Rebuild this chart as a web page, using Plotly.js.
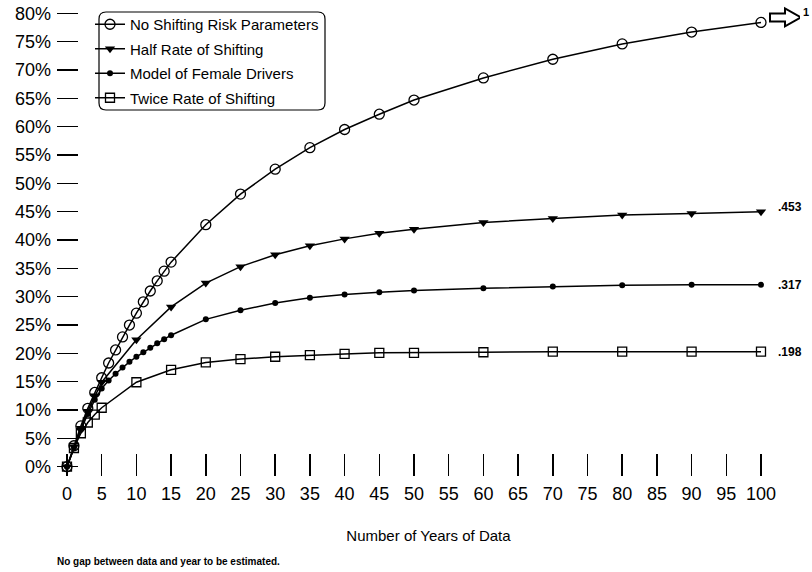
<!DOCTYPE html>
<html>
<head>
<meta charset="utf-8">
<script src="https://cdn.plot.ly/plotly-3.0.1.min.js"></script>
<style>html,body{margin:0;padding:0;background:#fff;}#chart{width:812px;height:572px;}</style>
</head>
<body>
<div id="chart"></div>
<script>
// ---- data (percent) ----
const yearsFine = [0,1,2,3,4,5,6,7,8,9,10,11,12,13,14,15,20,25,30,35,40,45,50,60,70,80,90,100];
const yearsCoarse = [0,1,2,3,4,5,10,15,20,25,30,35,40,45,50,60,70,80,90,100];
const noShifting = [0,3.7,7.2,10.3,13.1,15.7,18.3,20.6,22.9,25.0,27.1,29.1,31.0,32.8,34.5,36.1,42.7,48.1,52.5,56.3,59.5,62.2,64.7,68.6,71.9,74.6,76.7,78.4];
const halfRate = [0,3.5,6.8,9.8,12.5,14.9,22.4,28.2,32.4,35.3,37.4,39.0,40.2,41.2,41.9,43.1,43.8,44.4,44.7,45.0];
const femaleDrivers = [0,3.4,6.5,9.3,11.8,13.8,15.2,16.4,17.5,18.5,19.4,20.2,21.0,21.8,22.5,23.2,26.0,27.6,28.9,29.8,30.4,30.8,31.1,31.5,31.8,32.0,32.1,32.1];
const twiceRate = [0,3.3,5.9,7.8,9.2,10.4,14.9,17.1,18.4,19.0,19.4,19.7,19.9,20.1,20.1,20.2,20.3,20.3,20.3,20.3];
const seriesNames = ["No Shifting Risk Parameters","Half Rate of Shifting","Model of Female Drivers","Twice Rate of Shifting"];
const endLabels = ["1",".453",".317",".198"];
const xTicks = [0,5,10,15,20,25,30,35,40,45,50,55,60,65,70,75,80,85,90,95,100];
const yTicks = [0,5,10,15,20,25,30,35,40,45,50,55,60,65,70,75,80];
const yTickText = yTicks.map(v => v + '%');
const xTitle = "Number of Years of Data";
const footnote = "No gap between data and year to be estimated.";

// ---- geometry ----
const W=812,H=572,ML=57,MR=12,MT=5,MB=96;
const PW=W-ML-MR, PH=H-MT-MB;
const px2x = p => (p-ML)/PW;
const px2y = p => (H-MB-p)/PH;
const FONT = "Liberation Sans, Arial, sans-serif";

const lineStyle = {color:'#000', width:1.5};
const traces = [
  {x:yearsFine, y:noShifting, name:seriesNames[0], mode:'lines+markers', line:lineStyle,
   marker:{symbol:'circle-open', size:10, color:'#000', line:{width:1.3,color:'#000'}}},
  {x:yearsCoarse, y:halfRate, name:seriesNames[1], mode:'lines+markers', line:lineStyle,
   marker:{symbol:'triangle-down', size:9, color:'#000'}},
  {x:yearsFine, y:femaleDrivers, name:seriesNames[2], mode:'lines+markers', line:lineStyle,
   marker:{symbol:'circle', size:6, color:'#000'}},
  {x:yearsCoarse, y:twiceRate, name:seriesNames[3], mode:'lines+markers', line:lineStyle,
   marker:{symbol:'square-open', size:9, color:'#000', line:{width:1.3,color:'#000'}}}
].map((t,i) => Object.assign(t, {cliponaxis:false, legendgroup:'g'+i}));

// rounded legend box in paper coords
function roundRect(x0,y0,x1,y1,r){
  const P=(x,y)=>px2x(x).toFixed(5)+','+px2y(y).toFixed(5);
  return 'M'+P(x0+r,y0)+' L'+P(x1-r,y0)+' Q'+P(x1,y0)+' '+P(x1,y0+r)+
    ' L'+P(x1,y1-r)+' Q'+P(x1,y1)+' '+P(x1-r,y1)+
    ' L'+P(x0+r,y1)+' Q'+P(x0,y1)+' '+P(x0,y1-r)+
    ' L'+P(x0,y0+r)+' Q'+P(x0,y0)+' '+P(x0+r,y0)+' Z';
}

const lastY = [noShifting, halfRate, femaleDrivers, twiceRate].map(a => a[a.length-1]);
const lastX = yearsFine[yearsFine.length-1];

// hollow block arrow anchored (in pixels) to the last "No Shifting" point
const arrowShape = {type:'path', xref:'x', yref:'y', xsizemode:'pixel', ysizemode:'pixel',
  xanchor:lastX, yanchor:lastY[0],
  path:'M9,1 L24,1 L24,-4 L40,5 L24,14 L24,9 L9,9 Z',
  line:{color:'#000', width:2}, fillcolor:'#fff'};

const annotations = [
  {x:lastX, y:lastY[0], xref:'x', yref:'y', text:'<b>'+endLabels[0]+'</b>', showarrow:false, xanchor:'left',
   xshift:40, yshift:10, font:{family:FONT, size:11, color:'#000'}},
  {x:lastX, y:lastY[1], xref:'x', yref:'y', text:'<b>'+endLabels[1]+'</b>', showarrow:false, xanchor:'left',
   xshift:15, yshift:5, font:{family:FONT, size:12, color:'#000'}},
  {x:lastX, y:lastY[2], xref:'x', yref:'y', text:'<b>'+endLabels[2]+'</b>', showarrow:false, xanchor:'left',
   xshift:15, yshift:0, font:{family:FONT, size:12, color:'#000'}},
  {x:lastX, y:lastY[3], xref:'x', yref:'y', text:'<b>'+endLabels[3]+'</b>', showarrow:false, xanchor:'left',
   xshift:15, yshift:0, font:{family:FONT, size:12, color:'#000'}},
  {x:px2x(55), y:px2y(561), xref:'paper', yref:'paper', text:'<b>'+footnote+'</b>', showarrow:false,
   xanchor:'left', yanchor:'middle', font:{family:FONT, size:10, color:'#000'}}
];

const layout = {
  width:W, height:H, margin:{l:ML, r:MR, t:MT, b:MB, pad:0},
  paper_bgcolor:'#fff', plot_bgcolor:'#fff',
  font:{family:FONT, color:'#000'},
  showlegend:true,
  legend:{x:px2x(90), y:px2y(8), xanchor:'left', yanchor:'top', bgcolor:'rgba(0,0,0,0)',
          borderwidth:0, font:{family:FONT, size:15, color:'#000'}, itemwidth:30, tracegroupgap:2},
  xaxis:{range:[-1.44, 105.62], tickmode:'array', tickvals:xTicks, ticks:'inside', ticklen:22, tickwidth:1.5, tickcolor:'#000',
         showgrid:false, zeroline:false, showline:false, ticklabelstandoff:5,
         tickfont:{family:FONT, size:18, color:'#000'},
         title:{text:xTitle, standoff:27, font:{family:FONT, size:15, color:'#000'}}},
  yaxis:{range:[-1.64, 81.47], tickmode:'array', tickvals:yTicks, ticktext:yTickText, ticks:'inside', ticklen:21, tickwidth:1.5, tickcolor:'#000',
         showgrid:false, zeroline:false, showline:false, ticklabelstandoff:5,
         tickfont:{family:FONT, size:18, color:'#000'}},
  shapes:[{type:'path', xref:'paper', yref:'paper', path:roundRect(99,12,325,110,7),
           line:{color:'#000', width:1.2}, fillcolor:'rgba(0,0,0,0)'}, arrowShape],
  annotations:annotations
};

Plotly.newPlot('chart', traces, layout, {staticPlot:true, displayModeBar:false});
</script>
</body>
</html>
